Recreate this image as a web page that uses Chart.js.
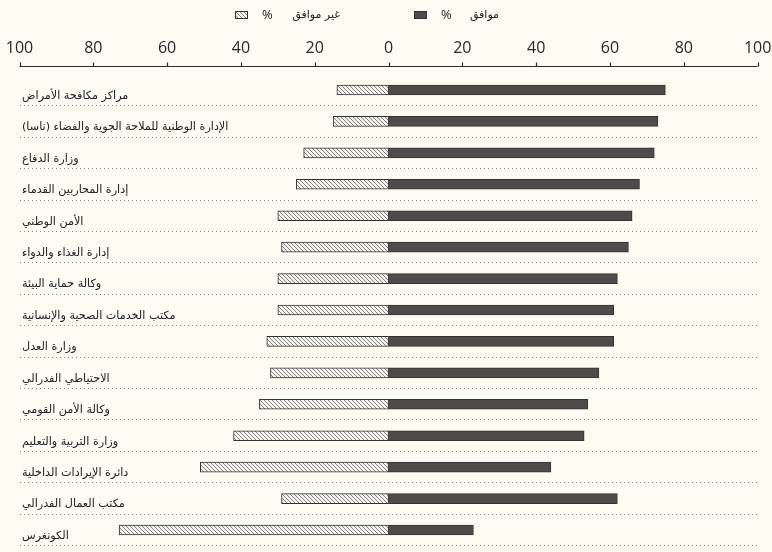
<!DOCTYPE html>
<html><head><meta charset="utf-8">
<script src="https://cdn.jsdelivr.net/npm/chart.js@4/dist/chart.umd.min.js"></script>
<style>html,body{margin:0;padding:0;background:#fcfaf1;}#wrap{width:772px;height:552px;position:relative}</style>
</head><body><div id="wrap"><canvas id="c" width="772" height="552"></canvas></div>
<script>
// ---- data ----
const categories = [
  'مراكز مكافحة الأمراض',
  'الإدارة الوطنية للملاحة الجوية والفضاء (ناسا)',
  'وزارة الدفاع',
  'إدارة المحاربين القدماء',
  'الأمن الوطني',
  'إدارة الغذاء والدواء',
  'وكالة حماية البيئة',
  'مكتب الخدمات الصحية والإنسانية',
  'وزارة العدل',
  'الاحتياطي الفدرالي',
  'وكالة الأمن القومي',
  'وزارة التربية والتعليم',
  'دائرة الإيرادات الداخلية',
  'مكتب العمال الفدرالي',
  'الكونغرس'
];
const agreeValues    = [75, 73, 72, 68, 66, 65, 62, 61, 61, 57, 54, 53, 44, 62, 23];
const disagreeValues = [14, 15, 23, 25, 30, 29, 30, 30, 33, 32, 35, 42, 51, 29, 73];
const axisMin = -100, axisMax = 100, axisStep = 20;
const legendAgree = 'موافق';
const legendDisagree = 'غير موافق';
const legendPercent = '%';

// ---- styles ----
const BG = '#fcfaf1';
const DARK = '#4f4b4b';
const EDGE = '#363232';
const ARABIC_FONT = '"DejaVu Sans", sans-serif';

const canvas = document.getElementById('c');
const ctx = canvas.getContext('2d');

function makeHatch() {
  const c = document.createElement('canvas');
  c.width = 4; c.height = 4;
  const g = c.getContext('2d');
  g.fillStyle = '#f6f3ea';
  g.fillRect(0, 0, 4, 4);
  g.strokeStyle = '#7a7676';
  g.lineWidth = 0.9;
  g.beginPath();
  g.moveTo(-1, -1); g.lineTo(5, 5);
  g.moveTo(-1, 3); g.lineTo(1, 5);
  g.moveTo(3, -1); g.lineTo(5, 1);
  g.stroke();
  return ctx.createPattern(c, 'repeat');
}
const HATCH = makeHatch();

const decor = {
  id: 'decor',
  beforeDraw(chart) {
    const g = chart.ctx;
    g.save();
    g.fillStyle = BG;
    g.fillRect(0, 0, chart.width, chart.height);
    g.restore();
  },
  afterDraw(chart) {
    const g = chart.ctx;
    const xs = chart.scales.x, ys = chart.scales.y;
    const area = chart.chartArea;
    g.save();
    // top axis line with upward ticks
    const yLine = Math.round(area.top - 8) + 0.5;
    g.strokeStyle = '#2e2b2b';
    g.lineWidth = 1.2;
    g.beginPath();
    g.moveTo(xs.getPixelForValue(axisMin), yLine);
    g.lineTo(xs.getPixelForValue(axisMax), yLine);
    xs.ticks.forEach(t => {
      const x = Math.round(xs.getPixelForValue(t.value)) + 0.5;
      g.moveTo(x, yLine);
      g.lineTo(x, yLine - 4);
    });
    g.stroke();

    // category labels (left aligned, below bar centre)
    g.font = '11.2px ' + ARABIC_FONT;
    g.fillStyle = '#222';
    g.direction = 'rtl';
    g.textAlign = 'left';
    g.textBaseline = 'middle';
    categories.forEach((lab, i) => {
      const y = ys.getPixelForValue(i) + 6;
      g.fillText(lab, area.left + 2.5, y);
    });

    // legend
    const ly = 15;
    function swatch(x, fill) {
      g.fillStyle = fill;
      g.fillRect(x, ly - 4, 13, 8);
      g.strokeStyle = EDGE; g.lineWidth = 1;
      g.strokeRect(x + 0.5, ly - 3.5, 12, 7);
    }
    swatch(235, HATCH);
    swatch(414, DARK);
    g.fillStyle = '#222';
    g.direction = 'ltr';
    g.textAlign = 'left';
    g.font = '13px "Open Sans", sans-serif';
    g.fillText(legendPercent, 262, ly);
    g.fillText(legendPercent, 441, ly);
    g.direction = 'rtl';
    g.textAlign = 'right';
    g.font = '11px ' + ARABIC_FONT;
    g.fillText(legendDisagree, 340, ly);
    g.fillText(legendAgree, 499, ly);
    g.restore();
  }
};

new Chart(ctx, {
  type: 'bar',
  data: {
    labels: categories,
    datasets: [
      {
        label: legendAgree + ' ' + legendPercent,
        data: agreeValues,
        backgroundColor: DARK,
        borderColor: EDGE,
        borderWidth: 1,
        borderSkipped: false,
        barThickness: 10
      },
      {
        label: legendDisagree + ' ' + legendPercent,
        data: disagreeValues.map(v => -v),
        backgroundColor: HATCH,
        borderColor: EDGE,
        borderWidth: 1,
        borderSkipped: false,
        barThickness: 10
      }
    ]
  },
  options: {
    indexAxis: 'y',
    responsive: false,
    animation: false,
    devicePixelRatio: 1,
    layout: { padding: { top: 39.3, left: 19.5, right: 14.4, bottom: 6.3 } },
    plugins: { legend: { display: false }, tooltip: { enabled: false } },
    scales: {
      x: {
        position: 'top',
        stacked: true,
        min: axisMin, max: axisMax,
        grid: { display: false, drawTicks: false },
        border: { display: false },
        ticks: {
          stepSize: axisStep,
          padding: 16.4,
          maxRotation: 0,
          color: '#2a2727',
          font: { family: '"Open Sans", sans-serif', size: 16 },
          callback: v => String(Math.abs(v))
        },
        afterFit(s) {
          s.height = 35;
          s.paddingLeft = 0; s.paddingRight = 0; s.paddingTop = 0; s.paddingBottom = 0;
        }
      },
      y: {
        stacked: true,
        grid: {
          offset: true,
          drawTicks: false,
          lineWidth: 1,
          color: c => c.index === 0 ? 'rgba(0,0,0,0)' : '#8a8686'
        },
        border: { display: false, dash: [1, 3] },
        ticks: { display: false },
        afterFit(s) {
          s.width = 0;
          s.paddingLeft = 0; s.paddingRight = 0; s.paddingTop = 0; s.paddingBottom = 0;
        }
      }
    }
  },
  plugins: [decor]
});
</script>
</body></html>
